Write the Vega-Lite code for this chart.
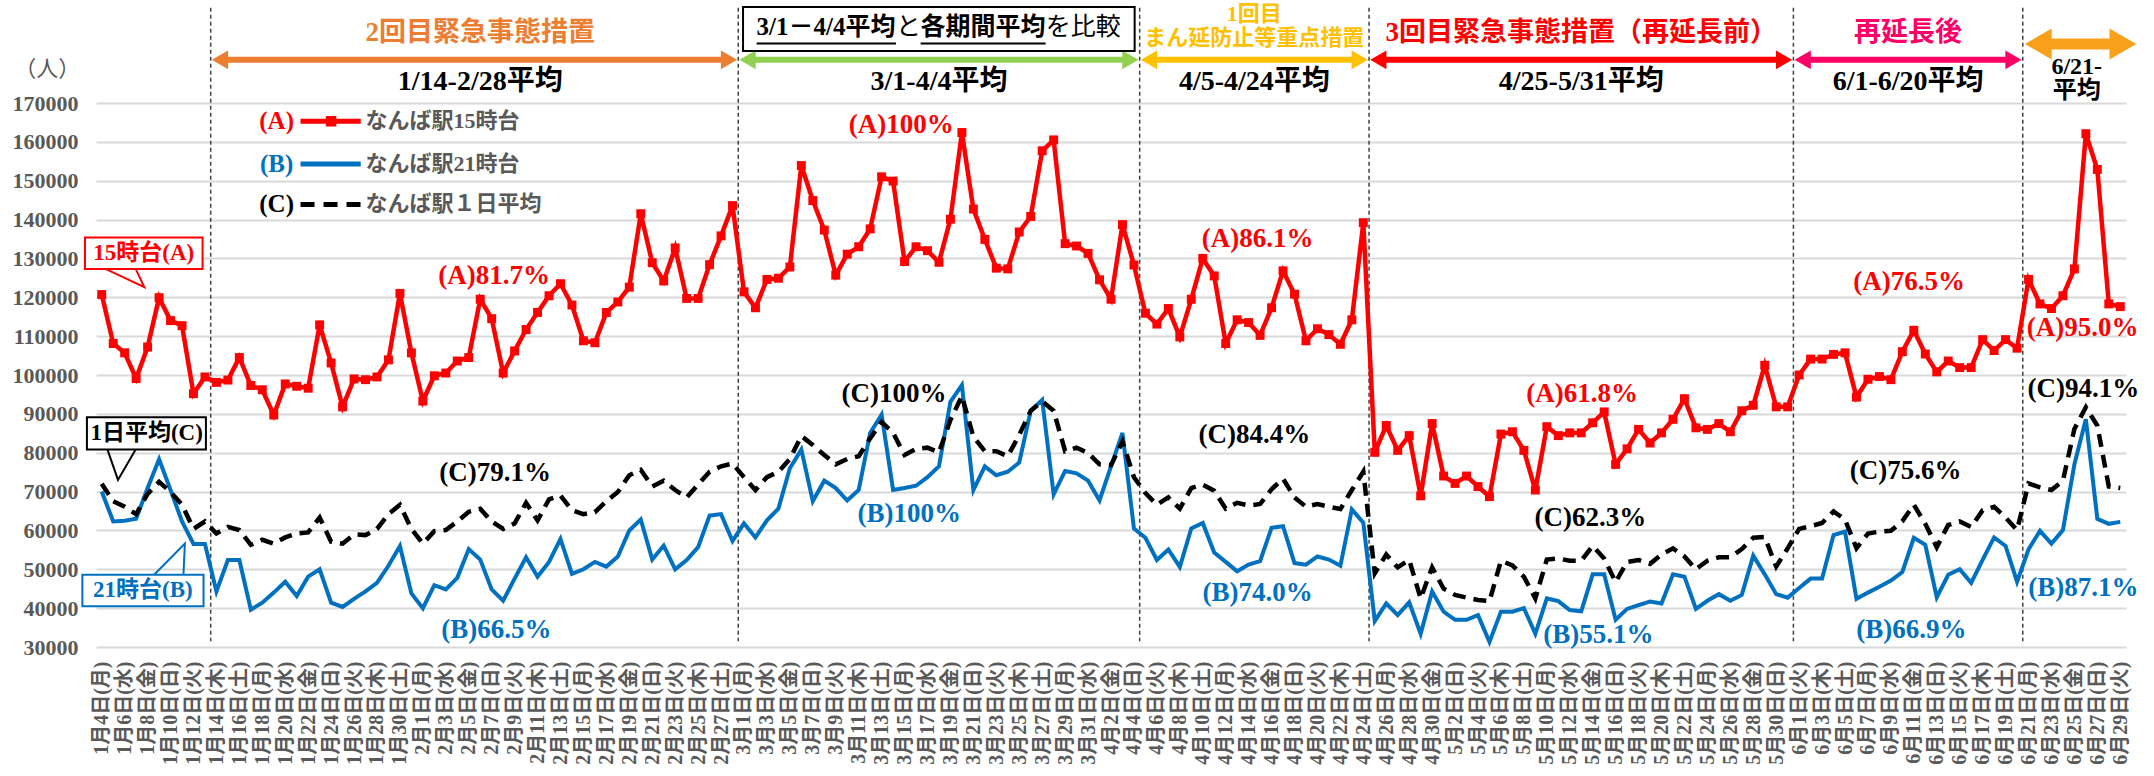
{
"$schema":"https://vega.github.io/schema/vega-lite/v6.json",
"width":2030,"height":544,
"autosize":{"type":"none"},
"padding":{"left":96,"top":103,"right":28,"bottom":129},
"background":"#ffffff",
"config":{"view":{"stroke":null},"axis":{"labelOverlap":false}},
"datasets":{
"main":[
{"t":"2021-01-04","A":120700,"B":70000,"C":72000},
{"t":"2021-01-05","A":108100,"B":62300,"C":67500},
{"t":"2021-01-06","A":105700,"B":62500,"C":66100},
{"t":"2021-01-07","A":99100,"B":63000,"C":64200},
{"t":"2021-01-08","A":107200,"B":70900,"C":69400},
{"t":"2021-01-09","A":119900,"B":78300,"C":72500},
{"t":"2021-01-10","A":114000,"B":70400,"C":69900},
{"t":"2021-01-11","A":112700,"B":62300,"C":66600},
{"t":"2021-01-12","A":95200,"B":56500,"C":60400},
{"t":"2021-01-13","A":99500,"B":56500,"C":62300},
{"t":"2021-01-14","A":98100,"B":44300,"C":59200},
{"t":"2021-01-15","A":98700,"B":52400,"C":60900},
{"t":"2021-01-16","A":104500,"B":52400,"C":60100},
{"t":"2021-01-17","A":97300,"B":39600,"C":56300},
{"t":"2021-01-18","A":96200,"B":41400,"C":57600},
{"t":"2021-01-19","A":89700,"B":44000,"C":56600},
{"t":"2021-01-20","A":97700,"B":46800,"C":58200},
{"t":"2021-01-21","A":97100,"B":43100,"C":59200},
{"t":"2021-01-22","A":96600,"B":48100,"C":59500},
{"t":"2021-01-23","A":112900,"B":50000,"C":63300},
{"t":"2021-01-24","A":103100,"B":41400,"C":57100},
{"t":"2021-01-25","A":91800,"B":40300,"C":56600},
{"t":"2021-01-26","A":99000,"B":42400,"C":59000},
{"t":"2021-01-27","A":98800,"B":44300,"C":58800},
{"t":"2021-01-28","A":99500,"B":46500,"C":60400},
{"t":"2021-01-29","A":103900,"B":50900,"C":64200},
{"t":"2021-01-30","A":121000,"B":56000,"C":66600},
{"t":"2021-01-31","A":105700,"B":43800,"C":60400},
{"t":"2021-02-01","A":93300,"B":40000,"C":56600},
{"t":"2021-02-02","A":99800,"B":45900,"C":59800},
{"t":"2021-02-03","A":100500,"B":44800,"C":60100},
{"t":"2021-02-04","A":103600,"B":47800,"C":62300},
{"t":"2021-02-05","A":104500,"B":55200,"C":64800},
{"t":"2021-02-06","A":119500,"B":52500,"C":65600},
{"t":"2021-02-07","A":114500,"B":44800,"C":62300},
{"t":"2021-02-08","A":100500,"B":41900,"C":60400},
{"t":"2021-02-09","A":106200,"B":47600,"C":61800},
{"t":"2021-02-10","A":111700,"B":53100,"C":67100},
{"t":"2021-02-11","A":116100,"B":48100,"C":62600},
{"t":"2021-02-12","A":120400,"B":51900,"C":68000},
{"t":"2021-02-13","A":123500,"B":57800,"C":69000},
{"t":"2021-02-14","A":118000,"B":48800,"C":65200},
{"t":"2021-02-15","A":108800,"B":50000,"C":64200},
{"t":"2021-02-16","A":108300,"B":51900,"C":64700},
{"t":"2021-02-17","A":116100,"B":50700,"C":67500},
{"t":"2021-02-18","A":118800,"B":53300,"C":69900},
{"t":"2021-02-19","A":122600,"B":60000,"C":74200},
{"t":"2021-02-20","A":141500,"B":62800,"C":75600},
{"t":"2021-02-21","A":128900,"B":52500,"C":71300},
{"t":"2021-02-22","A":124200,"B":56100,"C":72800},
{"t":"2021-02-23","A":132700,"B":50000,"C":70400},
{"t":"2021-02-24","A":119700,"B":52400,"C":68500},
{"t":"2021-02-25","A":119700,"B":55700,"C":71800},
{"t":"2021-02-26","A":128400,"B":63800,"C":75100},
{"t":"2021-02-27","A":135800,"B":64200,"C":76500},
{"t":"2021-02-28","A":143600,"B":57300,"C":77200},
{"t":"2021-03-01","A":121400,"B":61800,"C":73700},
{"t":"2021-03-02","A":117300,"B":58200,"C":70400},
{"t":"2021-03-03","A":124600,"B":62600,"C":73700},
{"t":"2021-03-04","A":124900,"B":65600,"C":75100},
{"t":"2021-03-05","A":127800,"B":76000,"C":78400},
{"t":"2021-03-06","A":153900,"B":80800,"C":84300},
{"t":"2021-03-07","A":144900,"B":67500,"C":82000},
{"t":"2021-03-08","A":137300,"B":72800,"C":79400},
{"t":"2021-03-09","A":125700,"B":70900,"C":77000},
{"t":"2021-03-10","A":131100,"B":67700,"C":78400},
{"t":"2021-03-11","A":133000,"B":70400,"C":79100},
{"t":"2021-03-12","A":137600,"B":85100,"C":83700},
{"t":"2021-03-13","A":151000,"B":89800,"C":87900},
{"t":"2021-03-14","A":149900,"B":70400,"C":85100},
{"t":"2021-03-15","A":129200,"B":70900,"C":79400},
{"t":"2021-03-16","A":133000,"B":71500,"C":81000},
{"t":"2021-03-17","A":132000,"B":73700,"C":81300},
{"t":"2021-03-18","A":129000,"B":76500,"C":80100},
{"t":"2021-03-19","A":140100,"B":93100,"C":88400},
{"t":"2021-03-20","A":162400,"B":97400,"C":94600},
{"t":"2021-03-21","A":142700,"B":70400,"C":84100},
{"t":"2021-03-22","A":134900,"B":76500,"C":80400},
{"t":"2021-03-23","A":127500,"B":74200,"C":80400},
{"t":"2021-03-24","A":127300,"B":75100,"C":79100},
{"t":"2021-03-25","A":136800,"B":77500,"C":84600},
{"t":"2021-03-26","A":140800,"B":90800,"C":90800},
{"t":"2021-03-27","A":157700,"B":93600,"C":93200},
{"t":"2021-03-28","A":160500,"B":69300,"C":90800},
{"t":"2021-03-29","A":133800,"B":75300,"C":80400},
{"t":"2021-03-30","A":133200,"B":74700,"C":81300},
{"t":"2021-03-31","A":131300,"B":72800,"C":79900},
{"t":"2021-04-01","A":124500,"B":67700,"C":77000},
{"t":"2021-04-02","A":119500,"B":76500,"C":76800},
{"t":"2021-04-03","A":138700,"B":85100,"C":82900},
{"t":"2021-04-04","A":128300,"B":60500,"C":73700},
{"t":"2021-04-05","A":115900,"B":58100,"C":69600},
{"t":"2021-04-06","A":113100,"B":52400,"C":66600},
{"t":"2021-04-07","A":117100,"B":55100,"C":68500},
{"t":"2021-04-08","A":109800,"B":50600,"C":65600},
{"t":"2021-04-09","A":119500,"B":60500,"C":70900},
{"t":"2021-04-10","A":130000,"B":61900,"C":71800},
{"t":"2021-04-11","A":125500,"B":54300,"C":70200},
{"t":"2021-04-12","A":108100,"B":51900,"C":65600},
{"t":"2021-04-13","A":114200,"B":49500,"C":67100},
{"t":"2021-04-14","A":113500,"B":51200,"C":66400},
{"t":"2021-04-15","A":110200,"B":52100,"C":66800},
{"t":"2021-04-16","A":117300,"B":60700,"C":70600},
{"t":"2021-04-17","A":126800,"B":61100,"C":73300},
{"t":"2021-04-18","A":120800,"B":51600,"C":68500},
{"t":"2021-04-19","A":108800,"B":51200,"C":66100},
{"t":"2021-04-20","A":111900,"B":53300,"C":66800},
{"t":"2021-04-21","A":110400,"B":52500,"C":66100},
{"t":"2021-04-22","A":107900,"B":50900,"C":65500},
{"t":"2021-04-23","A":114200,"B":65400,"C":70400},
{"t":"2021-04-24","A":139200,"B":62000,"C":75100},
{"t":"2021-04-25","A":80100,"B":36700,"C":49000},
{"t":"2021-04-26","A":87000,"B":41200,"C":53800},
{"t":"2021-04-27","A":80600,"B":38200,"C":50500},
{"t":"2021-04-28","A":84400,"B":41500,"C":52400},
{"t":"2021-04-29","A":68900,"B":33400,"C":42500},
{"t":"2021-04-30","A":87500,"B":44300,"C":50500},
{"t":"2021-05-01","A":74000,"B":39100,"C":45000},
{"t":"2021-05-02","A":72100,"B":37000,"C":43400},
{"t":"2021-05-03","A":74000,"B":37000,"C":42700},
{"t":"2021-05-04","A":71300,"B":38200,"C":42100},
{"t":"2021-05-05","A":68700,"B":31300,"C":41800},
{"t":"2021-05-06","A":84800,"B":39100,"C":52200},
{"t":"2021-05-07","A":85400,"B":39100,"C":51000},
{"t":"2021-05-08","A":80600,"B":40000,"C":48100},
{"t":"2021-05-09","A":70400,"B":33400,"C":42500},
{"t":"2021-05-10","A":86700,"B":42500,"C":52500},
{"t":"2021-05-11","A":84400,"B":41800,"C":52800},
{"t":"2021-05-12","A":85100,"B":39500,"C":52200},
{"t":"2021-05-13","A":85100,"B":39200,"C":52200},
{"t":"2021-05-14","A":87700,"B":48700,"C":56000},
{"t":"2021-05-15","A":90500,"B":48700,"C":52800},
{"t":"2021-05-16","A":77000,"B":37000,"C":46700},
{"t":"2021-05-17","A":81000,"B":39800,"C":51900},
{"t":"2021-05-18","A":86000,"B":40800,"C":52400},
{"t":"2021-05-19","A":82500,"B":41700,"C":51400},
{"t":"2021-05-20","A":85100,"B":41200,"C":53800},
{"t":"2021-05-21","A":88600,"B":48700,"C":55400},
{"t":"2021-05-22","A":93900,"B":48100,"C":53300},
{"t":"2021-05-23","A":86400,"B":39800,"C":50000},
{"t":"2021-05-24","A":86000,"B":41900,"C":52200},
{"t":"2021-05-25","A":87500,"B":43600,"C":53100},
{"t":"2021-05-26","A":85400,"B":41900,"C":53100},
{"t":"2021-05-27","A":90800,"B":43400,"C":55200},
{"t":"2021-05-28","A":92200,"B":53500,"C":58100},
{"t":"2021-05-29","A":102500,"B":48700,"C":58300},
{"t":"2021-05-30","A":91800,"B":43600,"C":50700},
{"t":"2021-05-31","A":91800,"B":42700,"C":55400},
{"t":"2021-06-01","A":100000,"B":45200,"C":60400},
{"t":"2021-06-02","A":104100,"B":47600,"C":61100},
{"t":"2021-06-03","A":104100,"B":47600,"C":61900},
{"t":"2021-06-04","A":105300,"B":58800,"C":64900},
{"t":"2021-06-05","A":105700,"B":59700,"C":62800},
{"t":"2021-06-06","A":94300,"B":42400,"C":55400},
{"t":"2021-06-07","A":98900,"B":44000,"C":59200},
{"t":"2021-06-08","A":99600,"B":45500,"C":59700},
{"t":"2021-06-09","A":98800,"B":47100,"C":59900},
{"t":"2021-06-10","A":106000,"B":49300,"C":62400},
{"t":"2021-06-11","A":111500,"B":58100,"C":66600},
{"t":"2021-06-12","A":105400,"B":56300,"C":61700},
{"t":"2021-06-13","A":100800,"B":42800,"C":55700},
{"t":"2021-06-14","A":103600,"B":48600,"C":61400},
{"t":"2021-06-15","A":101900,"B":50000,"C":62300},
{"t":"2021-06-16","A":101900,"B":46500,"C":60900},
{"t":"2021-06-17","A":109100,"B":52400,"C":65200},
{"t":"2021-06-18","A":106300,"B":58200,"C":66100},
{"t":"2021-06-19","A":109100,"B":56000,"C":63300},
{"t":"2021-06-20","A":106900,"B":46800,"C":60100},
{"t":"2021-06-21","A":124600,"B":55100,"C":72100},
{"t":"2021-06-22","A":118300,"B":59900,"C":71100},
{"t":"2021-06-23","A":117100,"B":56600,"C":70400},
{"t":"2021-06-24","A":120400,"B":60100,"C":72800},
{"t":"2021-06-25","A":127300,"B":77000,"C":86100},
{"t":"2021-06-26","A":162100,"B":88600,"C":91700},
{"t":"2021-06-27","A":152900,"B":63000,"C":87000},
{"t":"2021-06-28","A":118300,"B":61700,"C":71300},
{"t":"2021-06-29","A":117600,"B":62200,"C":70900}
],
"vlines":[{"t":"2021-01-13T12:00:00Z"},{"t":"2021-02-28T12:00:00Z"},{"t":"2021-04-04T12:00:00Z"},{"t":"2021-04-24T12:00:00Z"},{"t":"2021-05-31T12:00:00Z"},{"t":"2021-06-20T12:00:00Z"}],
"arrows":[
{"k":"p1","t":"2021-01-13T12:00:00Z","t2":"2021-02-28T12:00:00Z"},
{"k":"p2","t":"2021-02-28T12:00:00Z","t2":"2021-04-04T12:00:00Z"},
{"k":"p3","t":"2021-04-04T12:00:00Z","t2":"2021-04-24T12:00:00Z"},
{"k":"p4","t":"2021-04-24T12:00:00Z","t2":"2021-05-31T12:00:00Z"},
{"k":"p5","t":"2021-05-31T12:00:00Z","t2":"2021-06-20T12:00:00Z"}
],
"arrow6":[{"k":"p6","t":"2021-06-20T12:00:00Z","t2":"2021-06-30T14:00:00Z"}],
"titles":[
{"k":"p1","t":"2021-02-06T00:00:00Z","txt":"2回目緊急事態措置"},
{"k":"p4","t":"2021-05-13T00:00:00Z","txt":"3回目緊急事態措置（再延長前）"},
{"k":"p5","t":"2021-06-10T12:00:00Z","txt":"再延長後"}
],
"periods":[
{"t":"2021-02-06T00:00:00Z","v":175400,"txt":"1/14-2/28平均"},
{"t":"2021-03-18T00:00:00Z","v":175400,"txt":"3/1-4/4平均"},
{"t":"2021-04-14T12:00:00Z","v":175400,"txt":"4/5-4/24平均"},
{"t":"2021-05-13T00:00:00Z","v":175400,"txt":"4/25-5/31平均"},
{"t":"2021-06-10T12:00:00Z","v":175400,"txt":"6/1-6/20平均"}
],
"periods2":[
{"t":"2021-06-25T05:00:00Z","v":179200,"txt":"6/21-"},
{"t":"2021-06-25T05:00:00Z","v":173200,"txt":"平均"}
],
"gold":[
{"k":"p3","t":"2021-04-14T12:00:00Z","v":192900,"txt":"1回目"},
{"k":"p3","t":"2021-04-14T12:00:00Z","v":186600,"txt":"まん延防止等重点措置"}
],
"boxr":[{"t":"2021-02-28T22:00:00Z","t2":"2021-04-04T01:30:00Z"}],
"boxB":[{"t":"2021-03-02T02:24:00Z","txt":"3/1－4/4平均"},{"t":"2021-03-16T09:36:00Z","txt":"各期間平均"}],
"boxN":[{"t":"2021-03-14T06:00:00Z","txt":"と"},{"t":"2021-03-27T07:12:00Z","txt":"を比較"}],
"uline":[{"t":"2021-03-02T02:24:00Z","t2":"2021-03-14T06:00:00Z"},{"t":"2021-03-16T09:36:00Z","t2":"2021-03-27T07:12:00Z"}],
"pct":[
{"k":"A","t":"2021-02-07T05:00:00Z","v":125600,"txt":"(A)81.7%"},
{"k":"C","t":"2021-02-07T07:00:00Z","v":74900,"txt":"(C)79.1%"},
{"k":"B","t":"2021-02-07T10:00:00Z","v":34400,"txt":"(B)66.5%"},
{"k":"A","t":"2021-03-14T17:00:00Z","v":164300,"txt":"(A)100%"},
{"k":"C","t":"2021-03-14T02:00:00Z","v":95200,"txt":"(C)100%"},
{"k":"B","t":"2021-03-15T10:00:00Z","v":64200,"txt":"(B)100%"},
{"k":"A","t":"2021-04-14T19:00:00Z","v":135100,"txt":"(A)86.1%"},
{"k":"C","t":"2021-04-14T12:00:00Z","v":84600,"txt":"(C)84.4%"},
{"k":"B","t":"2021-04-14T19:00:00Z","v":44000,"txt":"(B)74.0%"},
{"k":"A","t":"2021-05-13T02:00:00Z","v":95200,"txt":"(A)61.8%"},
{"k":"C","t":"2021-05-13T19:00:00Z","v":63300,"txt":"(C)62.3%"},
{"k":"B","t":"2021-05-14T12:00:00Z","v":33200,"txt":"(B)55.1%"},
{"k":"A","t":"2021-06-10T14:00:00Z","v":124000,"txt":"(A)76.5%"},
{"k":"C","t":"2021-06-10T07:00:00Z","v":75300,"txt":"(C)75.6%"},
{"k":"B","t":"2021-06-10T19:00:00Z","v":34500,"txt":"(B)66.9%"},
{"k":"A","t":"2021-06-25T17:00:00Z","v":112100,"txt":"(A)95.0%"},
{"k":"C","t":"2021-06-25T19:00:00Z","v":96500,"txt":"(C)94.1%"},
{"k":"B","t":"2021-06-25T19:00:00Z","v":45200,"txt":"(B)87.1%"}
],
"leg":[
{"k":"A","v":165300,"t0":"2021-01-21T08:00:00Z","t1":"2021-01-26T14:00:00Z","tm":"2021-01-24T00:00:00Z","tl":"2021-01-19T06:00:00Z","tn":"2021-01-27T00:00:00Z","lab":"(A)","name":"なんば駅15時台"},
{"k":"B","v":154300,"t0":"2021-01-21T08:00:00Z","t1":"2021-01-26T14:00:00Z","tm":"2021-01-24T00:00:00Z","tl":"2021-01-19T06:00:00Z","tn":"2021-01-27T00:00:00Z","lab":"(B)","name":"なんば駅21時台"},
{"k":"C","v":143900,"t0":"2021-01-21T08:00:00Z","t1":"2021-01-26T14:00:00Z","tm":"2021-01-24T00:00:00Z","tl":"2021-01-19T06:00:00Z","tn":"2021-01-27T00:00:00Z","lab":"(C)","name":"なんば駅１日平均"}
],
"tails":[
{"k":"A","o":1,"t":"2021-01-04T08:00:00Z","v":127300},
{"k":"A","o":2,"t":"2021-01-07T17:00:00Z","v":122600},
{"k":"A","o":3,"t":"2021-01-06T23:00:00Z","v":127300},
{"k":"C","o":1,"t":"2021-01-04T12:00:00Z","v":80800},
{"k":"C","o":2,"t":"2021-01-05T10:00:00Z","v":73000},
{"k":"C","o":3,"t":"2021-01-06T23:00:00Z","v":80800},
{"k":"B","o":1,"t":"2021-01-08T13:30:00Z","v":48600},
{"k":"B","o":2,"t":"2021-01-11T06:00:00Z","v":56600},
{"k":"B","o":3,"t":"2021-01-11T03:00:00Z","v":48600}
],
"cbox":[
{"k":"A","t":"2021-01-02T13:00:00Z","t2":"2021-01-12T19:00:00Z","v":135400,"v2":127300,"tc":"2021-01-07T16:00:00Z","vc":131350,"txt":"15時台(A)"},
{"k":"C","t":"2021-01-02T17:00:00Z","t2":"2021-01-13T02:00:00Z","v":89100,"v2":80800,"tc":"2021-01-07T22:00:00Z","vc":84950,"txt":"1日平均(C)"},
{"k":"B","t":"2021-01-02T07:30:00Z","t2":"2021-01-12T21:00:00Z","v":48600,"v2":40500,"tc":"2021-01-07T14:00:00Z","vc":44550,"txt":"21時台(B)"}
],
"unit":[{"t":"2020-12-30T06:00:00Z","v":178700,"txt":"（人）"}]
},
"layer":[
{"data":{"name":"vlines"},"mark":{"type":"rule","strokeDash":[4,3],"strokeWidth":1.5,"color":"#404040"},
 "encoding":{
  "x":{"field":"t","type":"temporal","title":null,"scale":{"type":"utc","domain":[{"year":2021,"month":1,"date":3,"hours":12,"utc":true},{"year":2021,"month":6,"date":29,"hours":12,"utc":true}]},
   "axis":{"tickCount":{"interval":"day","step":1},"labelExpr":"round((datum.value - utc(2021,0,4)) / 86400000) % 2 == 0 ? utcFormat(datum.value, '%-m月%-d日') + '(' + ['日','月','火','水','木','金','土'][utcday(datum.value)] + ')' : ''","labelAngle":-90,"labelFont":"Liberation Serif, Noto Sans CJK JP","labelFontSize":20,"labelFontWeight":"bold","labelColor":"#595959","labelOverlap":false,"labelFlush":false,"labelBound":false,"labelPadding":14,"ticks":false,"domain":false,"grid":false}},
  "y":{"datum":194500,"type":"quantitative","scale":{"domain":[30000,170000],"nice":false,"zero":false},
   "axis":{"values":[30000,40000,50000,60000,70000,80000,90000,100000,110000,120000,130000,140000,150000,160000,170000],"tickCount":30,"format":"d","labelFont":"Liberation Serif","labelFontSize":22,"labelFontWeight":"bold","labelColor":"#595959","labelPadding":18,"labelOverlap":false,"labelFlush":false,"labelBound":false,"ticks":false,"domain":false,"grid":true,"gridColor":"#D9D9D9","gridWidth":2,"title":null}},
  "y2":{"datum":31500}}},
{"data":{"name":"main"},"mark":{"type":"line","color":"#FF0000","strokeWidth":4.5,"point":{"shape":"square","size":80,"filled":true,"color":"#FF0000"}},
 "encoding":{
  "x":{"field":"t","type":"temporal","title":null,"scale":{"type":"utc","domain":[{"year":2021,"month":1,"date":3,"hours":12,"utc":true},{"year":2021,"month":6,"date":29,"hours":12,"utc":true}]},
   "axis":{"tickCount":{"interval":"day","step":1},"labelExpr":"round((datum.value - utc(2021,0,4)) / 86400000) % 2 == 0 ? utcFormat(datum.value, '%-m月%-d日') + '(' + ['日','月','火','水','木','金','土'][utcday(datum.value)] + ')' : ''","labelAngle":-90,"labelFont":"Liberation Serif, Noto Sans CJK JP","labelFontSize":20,"labelFontWeight":"bold","labelColor":"#595959","labelOverlap":false,"labelFlush":false,"labelBound":false,"labelPadding":14,"ticks":false,"domain":false,"grid":false}},
  "y":{"field":"A","type":"quantitative","title":null,"scale":{"domain":[30000,170000],"nice":false,"zero":false},
   "axis":{"values":[30000,40000,50000,60000,70000,80000,90000,100000,110000,120000,130000,140000,150000,160000,170000],"tickCount":30,"format":"d","labelFont":"Liberation Serif","labelFontSize":22,"labelFontWeight":"bold","labelColor":"#595959","labelPadding":18,"labelOverlap":false,"labelFlush":false,"labelBound":false,"ticks":false,"domain":false,"grid":true,"gridColor":"#D9D9D9","gridWidth":2,"title":null}}}},
{"data":{"name":"main"},"mark":{"type":"line","color":"#0070C0","strokeWidth":4},
 "encoding":{"x":{"field":"t","type":"temporal","title":null},"y":{"field":"B","type":"quantitative","title":null}}},
{"data":{"name":"main"},"mark":{"type":"line","color":"#000000","strokeWidth":4.5,"strokeDash":[13,8]},
 "encoding":{"x":{"field":"t","type":"temporal","title":null},"y":{"field":"C","type":"quantitative","title":null}}},
{"data":{"name":"tails"},"mark":{"type":"line","strokeWidth":2},
 "encoding":{"x":{"field":"t","type":"temporal","title":null},"y":{"field":"v","type":"quantitative","title":null},"order":{"field":"o"},
  "color":{"field":"k","type":"nominal","legend":null,"scale":{"domain":["A","B","C","p1","p2","p3","p4","p5","p6"],"range":["#FF0000","#0070C0","#000000","#ED7D31","#92D050","#FFC000","#FF0000","#FF0066","#F9A01B"]}}}},
{"data":{"name":"cbox"},"mark":{"type":"rect","fill":"#ffffff","strokeWidth":2},
 "encoding":{"x":{"field":"t","type":"temporal","title":null},"x2":{"field":"t2"},"y":{"field":"v","type":"quantitative","title":null},"y2":{"field":"v2"},
  "stroke":{"field":"k","type":"nominal","legend":null,"scale":{"domain":["A","B","C"],"range":["#FF0000","#0070C0","#000000"]}}}},
{"data":{"name":"cbox"},"mark":{"type":"text","font":"Liberation Serif, Noto Sans CJK JP","fontSize":23,"fontWeight":"bold","baseline":"middle","align":"center"},
 "encoding":{"x":{"field":"tc","type":"temporal","title":null},"y":{"field":"vc","type":"quantitative","title":null},"text":{"field":"txt"},
  "color":{"field":"k","type":"nominal","legend":null,"scale":{"domain":["A","B","C","p1","p2","p3","p4","p5","p6"],"range":["#FF0000","#0070C0","#000000","#ED7D31","#92D050","#FFC000","#FF0000","#FF0066","#F9A01B"]}}}},
{"data":{"name":"leg"},"transform":[{"filter":"datum.k != 'C'"}],"mark":{"type":"rule","strokeWidth":5},
 "encoding":{"x":{"field":"t0","type":"temporal","title":null},"x2":{"field":"t1"},"y":{"field":"v","type":"quantitative","title":null},
  "color":{"field":"k","type":"nominal","legend":null,"scale":{"domain":["A","B","C","p1","p2","p3","p4","p5","p6"],"range":["#FF0000","#0070C0","#000000","#ED7D31","#92D050","#FFC000","#FF0000","#FF0066","#F9A01B"]}}}},
{"data":{"name":"leg"},"transform":[{"filter":"datum.k == 'C'"}],"mark":{"type":"rule","strokeWidth":5,"strokeDash":[14,9],"color":"#000000"},
 "encoding":{"x":{"field":"t0","type":"temporal","title":null},"x2":{"field":"t1"},"y":{"field":"v","type":"quantitative","title":null}}},
{"data":{"name":"leg"},"transform":[{"filter":"datum.k == 'A'"}],"mark":{"type":"point","shape":"square","size":110,"filled":true,"color":"#FF0000","opacity":1},
 "encoding":{"x":{"field":"tm","type":"temporal","title":null},"y":{"field":"v","type":"quantitative","title":null}}},
{"data":{"name":"leg"},"mark":{"type":"text","font":"Liberation Serif, Noto Sans CJK JP","fontSize":25,"fontWeight":"bold","baseline":"middle","align":"center"},
 "encoding":{"x":{"field":"tl","type":"temporal","title":null},"y":{"field":"v","type":"quantitative","title":null},"text":{"field":"lab"},
  "color":{"field":"k","type":"nominal","legend":null,"scale":{"domain":["A","B","C","p1","p2","p3","p4","p5","p6"],"range":["#FF0000","#0070C0","#000000","#ED7D31","#92D050","#FFC000","#FF0000","#FF0066","#F9A01B"]}}}},
{"data":{"name":"leg"},"mark":{"type":"text","font":"Liberation Serif, Noto Sans CJK JP","fontSize":22,"fontWeight":"bold","baseline":"middle","align":"left","color":"#595959"},
 "encoding":{"x":{"field":"tn","type":"temporal","title":null},"y":{"field":"v","type":"quantitative","title":null},"text":{"field":"name"}}},
{"data":{"name":"pct"},"mark":{"type":"text","font":"Liberation Serif, Noto Sans CJK JP","fontSize":27,"fontWeight":"bold","baseline":"middle","align":"center"},
 "encoding":{"x":{"field":"t","type":"temporal","title":null},"y":{"field":"v","type":"quantitative","title":null},"text":{"field":"txt"},
  "color":{"field":"k","type":"nominal","legend":null,"scale":{"domain":["A","B","C","p1","p2","p3","p4","p5","p6"],"range":["#FF0000","#0070C0","#000000","#ED7D31","#92D050","#FFC000","#FF0000","#FF0066","#F9A01B"]}}}},
{"data":{"name":"arrows"},"mark":{"type":"rule","strokeWidth":6,"xOffset":10,"x2Offset":-10},
 "encoding":{"x":{"field":"t","type":"temporal","title":null},"x2":{"field":"t2"},"y":{"datum":181100,"type":"quantitative"},
  "color":{"field":"k","type":"nominal","legend":null,"scale":{"domain":["A","B","C","p1","p2","p3","p4","p5","p6"],"range":["#FF0000","#0070C0","#000000","#ED7D31","#92D050","#FFC000","#FF0000","#FF0066","#F9A01B"]}}}},
{"data":{"name":"arrows"},"mark":{"type":"point","shape":"triangle-left","size":350,"filled":true,"opacity":1,"xOffset":9.3},
 "encoding":{"x":{"field":"t","type":"temporal","title":null},"y":{"datum":181100,"type":"quantitative"},
  "color":{"field":"k","type":"nominal","legend":null,"scale":{"domain":["A","B","C","p1","p2","p3","p4","p5","p6"],"range":["#FF0000","#0070C0","#000000","#ED7D31","#92D050","#FFC000","#FF0000","#FF0066","#F9A01B"]}}}},
{"data":{"name":"arrows"},"mark":{"type":"point","shape":"triangle-right","size":350,"filled":true,"opacity":1,"xOffset":-9.3},
 "encoding":{"x":{"field":"t2","type":"temporal","title":null},"y":{"datum":181100,"type":"quantitative"},
  "color":{"field":"k","type":"nominal","legend":null,"scale":{"domain":["A","B","C","p1","p2","p3","p4","p5","p6"],"range":["#FF0000","#0070C0","#000000","#ED7D31","#92D050","#FFC000","#FF0000","#FF0066","#F9A01B"]}}}},
{"data":{"name":"arrow6"},"mark":{"type":"rule","strokeWidth":11,"color":"#F9A01B","xOffset":18,"x2Offset":-18},
 "encoding":{"x":{"field":"t","type":"temporal","title":null},"x2":{"field":"t2"},"y":{"datum":185200,"type":"quantitative"}}},
{"data":{"name":"arrow6"},"mark":{"type":"point","shape":"triangle-left","size":960,"filled":true,"opacity":1,"color":"#F9A01B","xOffset":15.5},
 "encoding":{"x":{"field":"t","type":"temporal","title":null},"y":{"datum":185200,"type":"quantitative"}}},
{"data":{"name":"arrow6"},"mark":{"type":"point","shape":"triangle-right","size":960,"filled":true,"opacity":1,"color":"#F9A01B","xOffset":-15.5},
 "encoding":{"x":{"field":"t2","type":"temporal","title":null},"y":{"datum":185200,"type":"quantitative"}}},
{"data":{"name":"titles"},"mark":{"type":"text","font":"Liberation Serif, Noto Sans CJK JP","fontSize":27,"fontWeight":"bold","baseline":"middle","align":"center"},
 "encoding":{"x":{"field":"t","type":"temporal","title":null},"y":{"datum":188000,"type":"quantitative"},"text":{"field":"txt"},
  "color":{"field":"k","type":"nominal","legend":null,"scale":{"domain":["A","B","C","p1","p2","p3","p4","p5","p6"],"range":["#FF0000","#0070C0","#000000","#ED7D31","#92D050","#FFC000","#FF0000","#FF0066","#F9A01B"]}}}},
{"data":{"name":"gold"},"mark":{"type":"text","font":"Liberation Serif, Noto Sans CJK JP","fontSize":22,"fontWeight":"bold","baseline":"middle","align":"center"},
 "encoding":{"x":{"field":"t","type":"temporal","title":null},"y":{"field":"v","type":"quantitative","title":null},"text":{"field":"txt"},
  "color":{"field":"k","type":"nominal","legend":null,"scale":{"domain":["A","B","C","p1","p2","p3","p4","p5","p6"],"range":["#FF0000","#0070C0","#000000","#ED7D31","#92D050","#FFC000","#FF0000","#FF0066","#F9A01B"]}}}},
{"data":{"name":"periods"},"mark":{"type":"text","font":"Liberation Serif, Noto Sans CJK JP","fontSize":28,"fontWeight":"bold","baseline":"middle","align":"center","color":"#000000"},
 "encoding":{"x":{"field":"t","type":"temporal","title":null},"y":{"field":"v","type":"quantitative","title":null},"text":{"field":"txt"}}},
{"data":{"name":"periods2"},"mark":{"type":"text","font":"Liberation Serif, Noto Sans CJK JP","fontSize":24,"fontWeight":"bold","baseline":"middle","align":"center","color":"#000000"},
 "encoding":{"x":{"field":"t","type":"temporal","title":null},"y":{"field":"v","type":"quantitative","title":null},"text":{"field":"txt"}}},
{"data":{"name":"boxr"},"mark":{"type":"rect","fill":"#ffffff","stroke":"#000000","strokeWidth":2},
 "encoding":{"x":{"field":"t","type":"temporal","title":null},"x2":{"field":"t2"},"y":{"datum":194700,"type":"quantitative"},"y2":{"datum":183400}}},
{"data":{"name":"boxB"},"mark":{"type":"text","font":"Liberation Serif, Noto Sans CJK JP","fontSize":25,"fontWeight":"bold","baseline":"middle","align":"left","color":"#000000"},
 "encoding":{"x":{"field":"t","type":"temporal","title":null},"y":{"datum":189500,"type":"quantitative"},"text":{"field":"txt"}}},
{"data":{"name":"boxN"},"mark":{"type":"text","font":"Noto Sans CJK JP","fontSize":25,"fontWeight":"normal","baseline":"middle","align":"left","color":"#000000"},
 "encoding":{"x":{"field":"t","type":"temporal","title":null},"y":{"datum":189500,"type":"quantitative"},"text":{"field":"txt"}}},
{"data":{"name":"uline"},"mark":{"type":"rule","strokeWidth":2,"color":"#000000"},
 "encoding":{"x":{"field":"t","type":"temporal","title":null},"x2":{"field":"t2"},"y":{"datum":185300,"type":"quantitative"}}},
{"data":{"name":"unit"},"mark":{"type":"text","font":"Noto Sans CJK JP","fontSize":22,"baseline":"middle","align":"center","color":"#595959"},
 "encoding":{"x":{"field":"t","type":"temporal","title":null},"y":{"field":"v","type":"quantitative","title":null},"text":{"field":"txt"}}}
]
}
